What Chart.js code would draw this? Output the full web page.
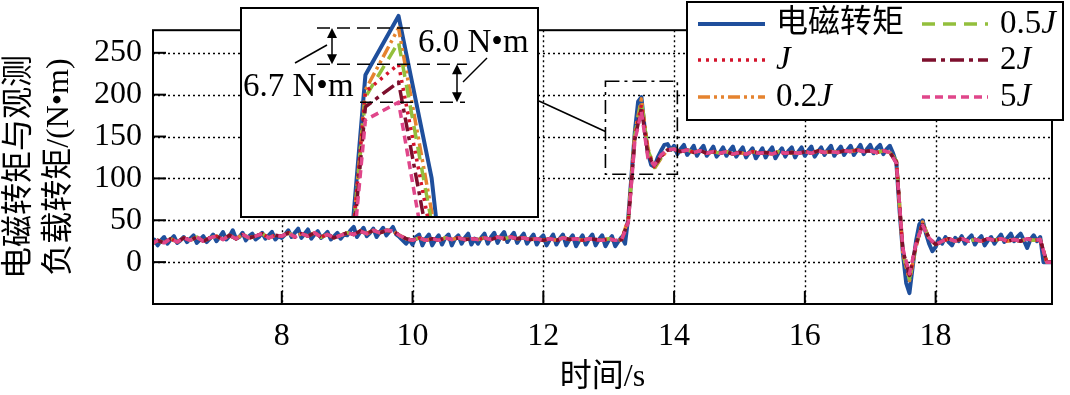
<!DOCTYPE html>
<html>
<head>
<meta charset="utf-8">
<script src="https://cdn.jsdelivr.net/npm/chart.js@4.4.1/dist/chart.umd.min.js"></script>
<style>
  html, body { margin: 0; padding: 0; background: #fff; }
  #wrap { position: relative; width: 1070px; height: 395px; }
  #main { position: absolute; left: 0; top: 0; }
  #inset { position: absolute; left: 240px; top: 7px; width: 299px; height: 211px; background: #fff; }
</style>
</head>
<body>
<div id="wrap">
  <canvas id="main" width="1070" height="395"></canvas>
  <div id="inset"><canvas id="insetCanvas" width="299" height="211"></canvas></div>
</div>
<script>
// ---- data ----
var xTickValues = [8, 10, 12, 14, 16, 18];
var yTickValues = [0, 50, 100, 150, 200, 250];

// electromagnetic torque, sampled every 0.05 s from 6.0 s
var emStart = 6.0, emStep = 0.05;
var emTorque = [
    22, 27, 20, 26, 30, 22, 27, 31, 23, 26, 30, 24, 28, 32, 23, 27, 31, 24, 28, 33,
    25, 30, 36, 27, 31, 38, 28, 30, 35, 26, 31, 34, 27, 30, 35, 28, 32, 36, 27, 31,
    29, 33, 38, 30, 35, 40, 29, 34, 39, 28, 33, 37, 29, 32, 36, 27, 31, 35, 28, 33,
    32, 38, 42, 30, 36, 41, 31, 35, 40, 30, 36, 41, 32, 37, 42, 33, 30, 26, 22, 27,
    21, 30, 33, 20, 28, 33, 20, 27, 32, 21, 29, 33, 20, 28, 32, 22, 29, 34, 21, 28,
    22, 29, 34, 22, 30, 35, 23, 31, 36, 24, 30, 35, 23, 29, 34, 22, 28, 33, 21, 28,
    32, 20, 27, 33, 21, 28, 33, 20, 27, 32, 19, 26, 32, 21, 28, 33, 20, 27, 32, 19,
    26, 31, 19, 25, 30, 22, 54, 105, 156, 192, 197, 160, 130, 116, 114, 125, 133, 140, 141, 134,
    139, 129, 135, 140, 128, 133, 139, 127, 134, 139, 127, 132, 138, 126, 131, 137, 127, 133, 138, 126,
    132, 137, 125, 131, 136, 124, 130, 136, 125, 132, 137, 124, 131, 136, 126, 133, 137, 125, 132, 137,
    127, 133, 138, 126, 132, 137, 128, 134, 139, 127, 133, 138, 128, 134, 139, 128, 134, 140, 129, 135,
    140, 130, 136, 140, 129, 135, 139, 130, 118, 60, 10, -25, -37, -5, 25, 45, 50, 35, 22, 13,
    18, 28, 22, 30, 24, 20, 29, 25, 31, 22, 28, 32, 21, 27, 31, 20, 26, 30, 22, 28,
    33, 24, 29, 34, 25, 30, 34, 26, 17, 27, 32, 25, 30, 0, 0, 0, 0
];

// observed load torque for each inertia setting, sampled every 0.1 s from 6.0 s
var obsStart = 6.0, obsStep = 0.1;
var obsJ = [
    21, 26, 23, 28, 24, 29, 26, 30, 25, 29,
    31, 27, 32, 28, 33, 29, 31, 34, 29, 32,
    31, 35, 30, 34, 31, 35, 30, 33, 29, 32,
    35, 33, 37, 34, 38, 35, 38, 37, 32, 28,
    26, 29, 26, 28, 26, 29, 27, 29, 27, 28,
    27, 29, 27, 30, 28, 30, 28, 29, 27, 28,
    26, 28, 26, 29, 27, 28, 26, 28, 27, 26,
    28, 26, 27, 50, 150, 188, 131, 114, 126, 134,
    135, 132, 134, 131, 133, 130, 132, 130, 132, 129,
    131, 129, 132, 130, 131, 129, 132, 130, 131, 130,
    132, 130, 133, 131, 132, 131, 133, 132, 134, 132,
    133, 131, 133, 131, 120, 12, -18, 20, 46, 28,
    21, 25, 28, 25, 28, 25, 27, 25, 28, 26,
    28, 25, 27, 25, 28, 26, 27, 0, 0
];
var obs02J = [
    21, 26, 23, 28, 24, 29, 26, 30, 25, 29,
    31, 27, 32, 28, 33, 29, 31, 34, 29, 32,
    31, 35, 30, 34, 31, 35, 30, 33, 29, 32,
    35, 33, 37, 34, 38, 35, 38, 37, 32, 28,
    26, 29, 26, 28, 26, 29, 27, 29, 27, 28,
    27, 29, 27, 30, 28, 30, 28, 29, 27, 28,
    26, 28, 26, 29, 27, 28, 26, 28, 27, 26,
    28, 26, 27, 52, 155, 195, 136, 112, 124, 134,
    135, 132, 134, 131, 133, 130, 132, 130, 132, 129,
    131, 129, 132, 130, 131, 129, 132, 130, 131, 130,
    132, 130, 133, 131, 132, 131, 133, 132, 134, 132,
    133, 131, 133, 131, 122, 10, -22, 18, 48, 28,
    21, 25, 28, 25, 28, 25, 27, 25, 28, 26,
    28, 25, 27, 25, 28, 26, 27, 0, 0
];
var obs05J = [
    21, 26, 23, 28, 24, 29, 26, 30, 25, 29,
    31, 27, 32, 28, 33, 29, 31, 34, 29, 32,
    31, 35, 30, 34, 31, 35, 30, 33, 29, 32,
    35, 33, 37, 34, 38, 35, 38, 37, 32, 28,
    26, 29, 26, 28, 26, 29, 27, 29, 27, 28,
    27, 29, 27, 30, 28, 30, 28, 29, 27, 28,
    26, 28, 26, 29, 27, 28, 26, 28, 27, 26,
    28, 26, 27, 51, 152, 192, 134, 113, 125, 134,
    135, 132, 134, 131, 133, 130, 132, 130, 132, 129,
    131, 129, 132, 130, 131, 129, 132, 130, 131, 130,
    132, 130, 133, 131, 132, 131, 133, 132, 134, 132,
    133, 131, 133, 131, 121, 11, -20, 19, 47, 28,
    21, 25, 28, 25, 28, 25, 27, 25, 28, 26,
    28, 25, 27, 25, 28, 26, 27, 0, 0
];
var obs2J = [
    21, 26, 23, 28, 24, 29, 26, 30, 25, 29,
    31, 27, 32, 28, 33, 29, 31, 34, 29, 32,
    31, 35, 30, 34, 31, 35, 30, 33, 29, 32,
    35, 33, 37, 34, 38, 35, 38, 37, 32, 28,
    26, 29, 26, 28, 26, 29, 27, 29, 27, 28,
    27, 29, 27, 30, 28, 30, 28, 29, 27, 28,
    26, 28, 26, 29, 27, 28, 26, 28, 27, 26,
    28, 26, 27, 49, 147, 184, 128, 115, 127, 134,
    135, 132, 134, 131, 133, 130, 132, 130, 132, 129,
    131, 129, 132, 130, 131, 129, 132, 130, 131, 130,
    132, 130, 133, 131, 132, 131, 133, 132, 134, 132,
    133, 131, 133, 131, 119, 14, -16, 21, 45, 29,
    21, 25, 28, 25, 28, 25, 27, 25, 28, 26,
    28, 25, 27, 25, 28, 26, 27, 0, 0
];
var obs5J = [
    21, 26, 23, 28, 24, 29, 26, 30, 25, 29,
    31, 27, 32, 28, 33, 29, 31, 34, 29, 32,
    31, 35, 30, 34, 31, 35, 30, 33, 29, 32,
    35, 33, 37, 34, 38, 35, 38, 37, 32, 28,
    26, 29, 26, 28, 26, 29, 27, 29, 27, 28,
    27, 29, 27, 30, 28, 30, 28, 29, 27, 28,
    26, 28, 26, 29, 27, 28, 26, 28, 27, 26,
    28, 26, 27, 48, 145, 180, 124, 116, 128, 134,
    135, 132, 134, 131, 133, 130, 132, 130, 132, 129,
    131, 129, 132, 130, 131, 129, 132, 130, 131, 130,
    132, 130, 133, 131, 132, 131, 133, 132, 134, 132,
    133, 131, 133, 131, 118, 16, -14, 22, 44, 29,
    21, 25, 28, 25, 28, 25, 27, 25, 28, 26,
    28, 25, 27, 25, 28, 26, 27, 0, 0
];

// zoomed view of the first peak
var insetTime = [13.40, 13.44, 13.48, 13.52, 13.56];
var insetEm = [102, 185.5, 198.1, 163.5, 100];
var insetJ = [101, 181.9, 187.8, 150.7, 110];
var inset02J = [101, 182.3, 195.5, 156.4, 110];
var inset05J = [101, 180.8, 192.5, 154.0, 110];
var inset2J = [100, 178.7, 184.0, 146.0, 108];
var inset5J = [100, 175.9, 179.7, 139.2, 105];
var insetLabels = ["6.7 N\u2022m", "6.0 N\u2022m"];

// ---- styling ----
var SERIF = '"Liberation Serif", "Noto Sans CJK SC", serif';
var INSET = { left: 240, top: 7, width: 299, height: 211 };
var zoomBoxX = [12.95, 14.05], zoomBoxY = [105, 216];

var styles = [
    { label: "电磁转矩", color: "#1f4f9c", dash: [], width: 4, order: 6 },
    { label: "J", color: "#d4142c", dash: [3, 5], width: 3.5, order: 3 },
    { label: "0.2J", color: "#e5832f", dash: [12, 4, 3, 4, 3, 4], width: 3.5, order: 5 },
    { label: "0.5J", color: "#93bf3c", dash: [13, 8], width: 3.5, order: 4 },
    { label: "2J", color: "#7d0f2d", dash: [14, 5, 4, 5], width: 3.5, order: 2 },
    { label: "5J", color: "#e0468a", dash: [8, 5], width: 3.5, order: 1 }
];

function series(values, start, step) {
    return values.map(function(v, i) { return { x: start + i * step, y: v }; });
}

function makeDataset(style, points) {
    return {
        label: style.label,
        data: points,
        borderColor: style.color,
        borderWidth: style.width,
        borderDash: style.dash,
        borderCapStyle: 'butt',
        borderJoinStyle: 'round',
        order: style.order,
        pointRadius: 0,
        tension: 0,
        fill: false
    };
}

function line(ctx, x1, y1, x2, y2) {
    ctx.beginPath();
    ctx.moveTo(x1, y1);
    ctx.lineTo(x2, y2);
    ctx.stroke();
}

function drawLabel(ctx, text, x, y) {
    ctx.fillStyle = '#000';
    ctx.textBaseline = 'middle';
    ctx.textAlign = 'left';
    if (/J$/.test(text)) {
        var head = text.slice(0, -1);
        ctx.font = '33px ' + SERIF;
        ctx.fillText(head, x, y);
        x += ctx.measureText(head).width;
        ctx.font = 'italic 33px ' + SERIF;
        ctx.fillText('J', x, y);
    } else {
        ctx.font = '32px ' + SERIF;
        ctx.fillText(text, x, y);
    }
}

function arrowHead(ctx, x, y, dir) {
    ctx.beginPath();
    ctx.moveTo(x, y);
    ctx.lineTo(x - 5, y - dir * 10);
    ctx.lineTo(x + 5, y - dir * 10);
    ctx.closePath();
    ctx.fill();
}

function doubleArrow(ctx, x, y1, y2) {
    ctx.setLineDash([]);
    line(ctx, x, y1 + 4, x, y2 - 4);
    arrowHead(ctx, x, y1, -1);
    arrowHead(ctx, x, y2, 1);
}

// ---- main chart decorations ----
var mainDecor = {
    id: 'mainDecor',
    beforeDatasetsDraw: function(chart) {
        var ctx = chart.ctx, a = chart.chartArea, x = chart.scales.x, y = chart.scales.y;
        ctx.save();
        ctx.strokeStyle = '#000';
        ctx.lineWidth = 1.4;
        ctx.setLineDash([2, 3]);
        xTickValues.forEach(function(v) {
            var px = Math.round(x.getPixelForValue(v)) + 0.5;
            line(ctx, px, a.top, px, a.bottom);
        });
        yTickValues.forEach(function(v) {
            var py = Math.round(y.getPixelForValue(v)) + 0.5;
            line(ctx, a.left, py, a.right, py);
        });
        ctx.restore();
    },
    afterDatasetsDraw: function(chart) {
        var ctx = chart.ctx, a = chart.chartArea, x = chart.scales.x, y = chart.scales.y;
        ctx.save();
        ctx.strokeStyle = '#000';
        ctx.lineWidth = 2;
        ctx.setLineDash([]);
        ctx.strokeRect(a.left, a.top, a.right - a.left, a.bottom - a.top);
        xTickValues.forEach(function(v) {
            var px = x.getPixelForValue(v);
            line(ctx, px, a.bottom, px, a.bottom - 13);
        });
        yTickValues.forEach(function(v) {
            var py = y.getPixelForValue(v);
            line(ctx, a.left, py, a.left + 13, py);
        });
        // dash-dot box marking the zoomed region
        var bx1 = x.getPixelForValue(zoomBoxX[0]), bx2 = x.getPixelForValue(zoomBoxX[1]);
        var by1 = y.getPixelForValue(zoomBoxY[1]), by2 = y.getPixelForValue(zoomBoxY[0]);
        ctx.lineWidth = 1.6;
        ctx.setLineDash([14, 5, 3, 5]);
        ctx.strokeRect(bx1, by1, bx2 - bx1, by2 - by1);
        ctx.setLineDash([]);
        line(ctx, INSET.left + INSET.width, INSET.top + 94, bx1, y.getPixelForValue(156));
        ctx.restore();
    },
    afterDraw: function(chart) {
        var ctx = chart.ctx;
        var box = { left: 687, top: 2, right: 1063, bottom: 120 };
        var rows = [24, 60, 97];
        var cols = [{ x1: 698, x2: 765, tx: 776 }, { x1: 922, x2: 988, tx: 1000 }];
        ctx.save();
        ctx.fillStyle = '#fff';
        ctx.fillRect(box.left, box.top, box.right - box.left, box.bottom - box.top);
        ctx.strokeStyle = '#000';
        ctx.lineWidth = 2;
        ctx.strokeRect(box.left, box.top, box.right - box.left, box.bottom - box.top);
        chart.data.datasets.forEach(function(ds, i) {
            var col = cols[Math.floor(i / 3)], ry = rows[i % 3];
            ctx.strokeStyle = ds.borderColor;
            ctx.lineWidth = ds.borderWidth;
            ctx.lineCap = 'butt';
            ctx.setLineDash(ds.borderDash);
            line(ctx, col.x1, ry, col.x2, ry);
            ctx.setLineDash([]);
            drawLabel(ctx, ds.label, col.tx, ry);
        });
        ctx.restore();
    }
};

var mainSeries = [
    series(emTorque, emStart, emStep),
    series(obsJ, obsStart, obsStep),
    series(obs02J, obsStart, obsStep),
    series(obs05J, obsStart, obsStep),
    series(obs2J, obsStart, obsStep),
    series(obs5J, obsStart, obsStep)
];

new Chart(document.getElementById('main'), {
    type: 'line',
    data: {
        datasets: styles.map(function(s, i) { return makeDataset(s, mainSeries[i]); })
    },
    options: {
        responsive: false,
        animation: false,
        events: [],
        layout: { padding: { top: 7, right: 18, left: 0, bottom: 0 } },
        plugins: { legend: { display: false }, tooltip: { enabled: false } },
        scales: {
            x: {
                type: 'linear',
                min: 6.03,
                max: 19.78,
                afterBuildTicks: function(s) { s.ticks = xTickValues.map(function(v) { return { value: v }; }); },
                afterFit: function(s) { s.height = 91; },
                grid: { display: false, drawTicks: false },
                border: { display: false },
                ticks: { color: '#000', padding: 13, maxRotation: 0, font: { family: SERIF, size: 32 } },
                title: {
                    display: true,
                    text: '时间/s',
                    color: '#000',
                    padding: { top: 0, bottom: -2 },
                    font: { family: SERIF, size: 32 }
                }
            },
            y: {
                min: -50,
                max: 277,
                afterBuildTicks: function(s) { s.ticks = yTickValues.map(function(v) { return { value: v }; }); },
                afterFit: function(s) { s.width = 153; },
                grid: { display: false, drawTicks: false },
                border: { display: false },
                ticks: { color: '#000', padding: 11, font: { family: SERIF, size: 32 } },
                title: {
                    display: true,
                    text: ['电磁转矩与观测', '负载转矩/(N\u2022m)'],
                    color: '#000',
                    padding: { top: 0, bottom: 0 },
                    font: { family: SERIF, size: 32, lineHeight: 1.25 }
                }
            }
        }
    },
    plugins: [mainDecor]
});

// ---- inset chart ----
var insetDecor = {
    id: 'insetDecor',
    afterDatasetsDraw: function(chart) {
        var ctx = chart.ctx, y = chart.scales.y;
        var yTop = y.getPixelForValue(Math.max.apply(null, inset02J));
        var yMid = y.getPixelForValue(Math.max.apply(null, insetJ));
        var yBot = y.getPixelForValue(Math.max.apply(null, inset5J));
        ctx.save();
        ctx.strokeStyle = '#000';
        ctx.fillStyle = '#000';
        ctx.lineWidth = 1.5;
        ctx.setLineDash([13, 7]);
        line(ctx, 77, yTop, 177, yTop);
        line(ctx, 77, yMid, 227, yMid);
        line(ctx, 120, yBot, 225, yBot);
        doubleArrow(ctx, 92, yTop, yMid);
        doubleArrow(ctx, 217, yMid, yBot);
        line(ctx, 55, 56, 87, 38);
        line(ctx, 223, 75, 247, 51);
        ctx.font = '33px ' + SERIF;
        ctx.textBaseline = 'middle';
        ctx.textAlign = 'left';
        ctx.fillText(insetLabels[0], 3, 80);
        ctx.fillText(insetLabels[1], 178, 36);
        ctx.lineWidth = 2;
        ctx.strokeRect(1, 1, chart.width - 2, chart.height - 2);
        ctx.restore();
    }
};

var insetSeries = [insetEm, insetJ, inset02J, inset05J, inset2J, inset5J];

new Chart(document.getElementById('insetCanvas'), {
    type: 'line',
    data: {
        datasets: styles.map(function(s, i) {
            return makeDataset(s, insetSeries[i].map(function(v, j) { return { x: insetTime[j], y: v }; }));
        })
    },
    options: {
        responsive: false,
        animation: false,
        events: [],
        layout: { padding: 0 },
        plugins: { legend: { display: false }, tooltip: { enabled: false } },
        scales: {
            x: { type: 'linear', display: false, min: 13.2885, max: 13.6497 },
            y: { display: false, min: 155, max: 200 }
        }
    },
    plugins: [insetDecor]
});
</script>
</body>
</html>
